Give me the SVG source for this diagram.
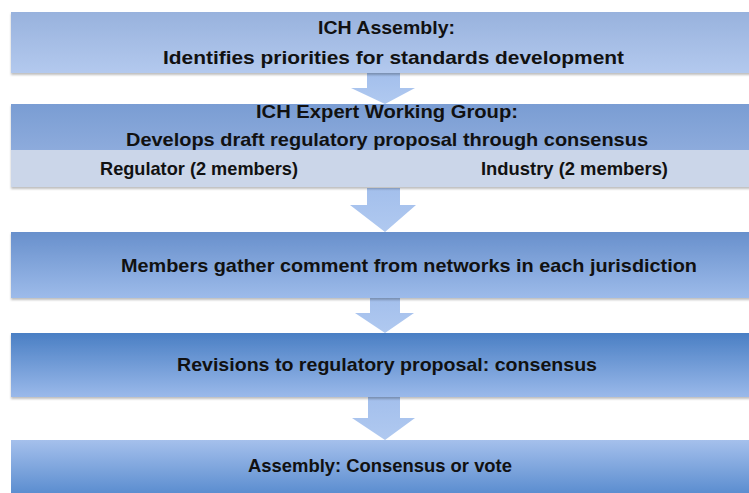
<svg xmlns="http://www.w3.org/2000/svg" width="749" height="493" viewBox="0 0 749 493">
<defs>
<linearGradient id="g1" x1="0" y1="0" x2="0" y2="1"><stop offset="0" stop-color="#98b2dd"/><stop offset="1" stop-color="#b3c9ee"/></linearGradient>
<linearGradient id="g2" x1="0" y1="0" x2="0" y2="1"><stop offset="0" stop-color="#7a9dd3"/><stop offset="1" stop-color="#8dabdc"/></linearGradient>
<linearGradient id="g3" x1="0" y1="0" x2="0" y2="1"><stop offset="0" stop-color="#6890cc"/><stop offset="1" stop-color="#9dbbea"/></linearGradient>
<linearGradient id="g4" x1="0" y1="0" x2="0" y2="1"><stop offset="0" stop-color="#4a7fc4"/><stop offset="1" stop-color="#9ab9ea"/></linearGradient>
<linearGradient id="g5" x1="0" y1="0" x2="0" y2="1"><stop offset="0" stop-color="#a5c0ec"/><stop offset="1" stop-color="#5287cc"/></linearGradient>
<linearGradient id="ga" x1="0" y1="0" x2="0" y2="1"><stop offset="0" stop-color="#a3bfec"/><stop offset="1" stop-color="#b0c9f0"/></linearGradient>
<filter id="sh" x="-5%" y="-20%" width="110%" height="150%"><feDropShadow dx="0" dy="2" stdDeviation="1.2" flood-color="#000" flood-opacity="0.25"/></filter>
</defs>
<style>
text{font-family:"Liberation Sans",Arial,sans-serif;font-weight:bold;font-size:18.5px;fill:#111;}
.arrow{fill:url(#ga);}
</style>
<rect width="749" height="493" fill="#fff"/>
<g id="connectors">
<path class="arrow" d="M367,73 H400 V88 H415 L385,104 L351,88 H367 Z"/>
<path class="arrow" d="M367,188 H400 V205 H416 L385,232 L350,205 H367 Z"/>
<path class="arrow" d="M370,298 H400 V313 H414 L385,333 L355,313 H370 Z"/>
<path class="arrow" d="M368,397 H400 V418 H415 L385,440 L352,418 H368 Z"/>
</g>
<g id="node1">
<rect x="11" y="12" width="760" height="61" fill="url(#g1)" filter="url(#sh)"/>
<text x="318" y="34" textLength="137" lengthAdjust="spacingAndGlyphs">ICH Assembly:</text>
<text x="163" y="64" textLength="461" lengthAdjust="spacingAndGlyphs">Identifies priorities for standards development</text>
</g>
<g id="node2">
<rect x="11" y="104" width="760" height="83" fill="#cbd6e9" filter="url(#sh)"/>
<rect x="11" y="104" width="760" height="46" fill="url(#g2)"/>
<text x="256" y="118" textLength="262" lengthAdjust="spacingAndGlyphs">ICH Expert Working Group:</text>
<text x="126" y="146" textLength="522" lengthAdjust="spacingAndGlyphs">Develops draft regulatory proposal through consensus</text>
<rect x="11" y="150" width="760" height="37" fill="#cbd6e9"/>
</g>
<g id="node2-regulator">
<text x="100" y="175" textLength="198" lengthAdjust="spacingAndGlyphs">Regulator (2 members)</text>
</g>
<g id="node2-industry">
<text x="481" y="175" textLength="187" lengthAdjust="spacingAndGlyphs">Industry (2 members)</text>
</g>
<g id="node3">
<rect x="11" y="232" width="760" height="66" fill="url(#g3)" filter="url(#sh)"/>
<text x="121" y="272" textLength="576" lengthAdjust="spacingAndGlyphs">Members gather comment from networks in each jurisdiction</text>
</g>
<g id="node4">
<rect x="11" y="333" width="760" height="64" fill="url(#g4)" filter="url(#sh)"/>
<text x="177" y="371" textLength="420" lengthAdjust="spacingAndGlyphs">Revisions to regulatory proposal: consensus</text>
</g>
<g id="node5">
<rect x="11" y="440" width="760" height="60" fill="url(#g5)"/>
<text x="248" y="472" textLength="264" lengthAdjust="spacingAndGlyphs">Assembly: Consensus or vote</text>
</g>
</svg>
